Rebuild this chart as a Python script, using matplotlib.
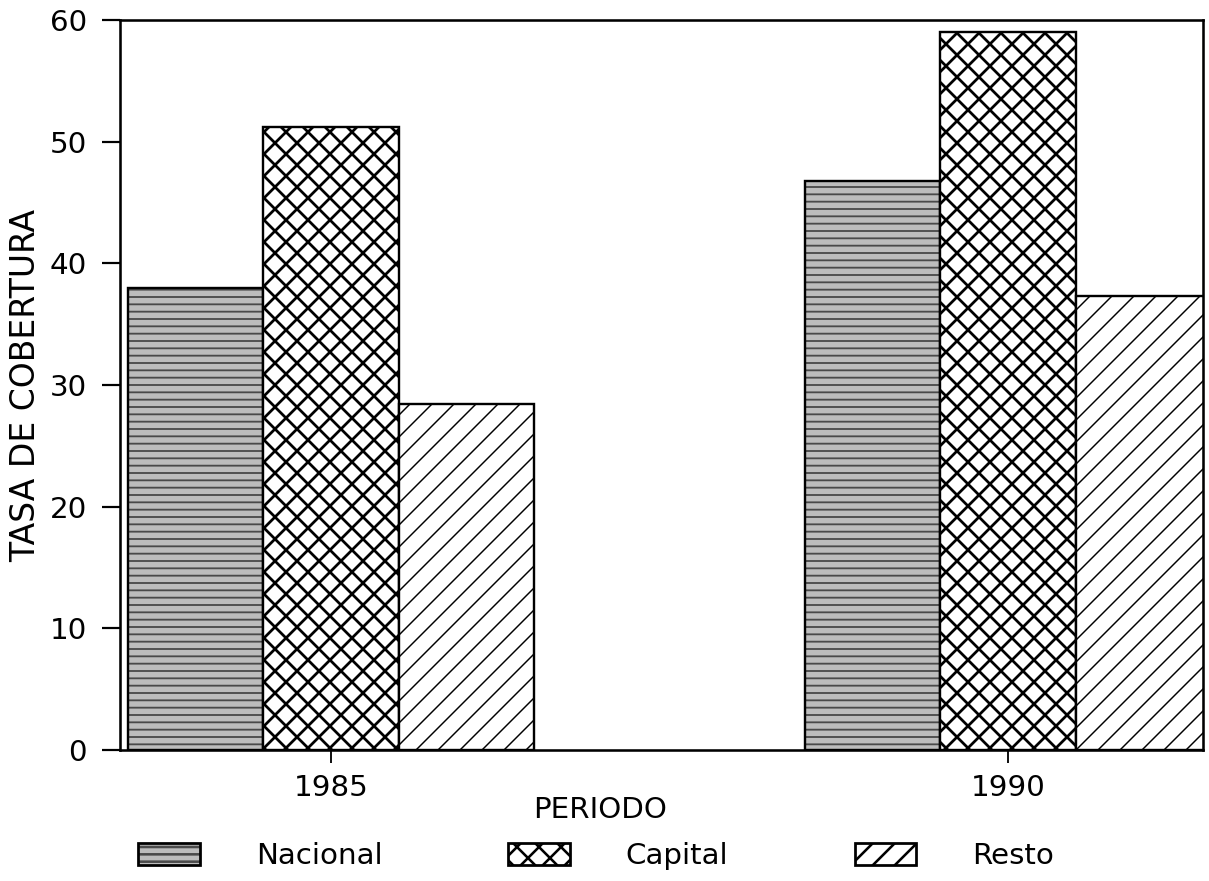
import numpy as np
import matplotlib
matplotlib.use('Agg')
import matplotlib.pyplot as plt
from matplotlib.patches import Patch


# Datos
periodos = ['1985', '1990']
series = ['Nacional', 'Capital', 'Resto']
nacional = [38.0, 46.8]
capital = [51.2, 59.0]
resto = [28.4, 37.3]
y_ticks = [0, 10, 20, 30, 40, 50, 60]

plt.rcParams['font.family'] = ['DejaVu Sans']
DPI = 132

fig = plt.figure(figsize=(1209 / DPI, 881 / DPI), dpi=DPI)
ax = fig.add_axes([120 / 1209, 1 - 750 / 881, 1083 / 1209, 730 / 881])

x = np.arange(len(periodos))
w = 0.2


def draw_bars(pos, vals, face, hatch, hatch_color, hatch_lw):
    # relleno con trama, luego el contorno negro encima
    bars = ax.bar(pos, vals, w, color=face, edgecolor=hatch_color, hatch=hatch, linewidth=0)
    for b in bars:
        if hasattr(b, 'set_hatch_linewidth'):
            b.set_hatch_linewidth(hatch_lw)
    ax.bar(pos, vals, w, fill=False, edgecolor='black', linewidth=1.3)
    fill = Patch(facecolor=face, edgecolor=hatch_color, hatch=hatch, linewidth=0)
    if hasattr(fill, 'set_hatch_linewidth'):
        fill.set_hatch_linewidth(hatch_lw)
    edge = Patch(fill=False, edgecolor='black', linewidth=1.5)
    return (fill, edge)


plt.rcParams['hatch.linewidth'] = 1.4
h1 = draw_bars(x - w, nacional, '#bdbdbd', '---', '#4a4a4a', 1.0)
h2 = draw_bars(x, capital, 'white', 'xx', 'black', 1.5)
h3 = draw_bars(x + w, resto, 'white', '//', 'black', 0.8)

ax.set_xlim(-0.312, 1.288)
ax.set_ylim(0, 60)
ax.set_yticks(y_ticks)
ax.set_xticks(x)
ax.set_xticklabels(periodos)
ax.tick_params(axis='y', direction='out', length=10, width=1.2, labelsize=16, pad=8)
ax.tick_params(axis='x', direction='out', length=7, width=1.0, labelsize=16, pad=6)
for s in ax.spines.values():
    s.set_linewidth(1.4)

ax.set_ylabel('TASA DE COBERTURA', fontsize=18)
ax.yaxis.set_label_coords(-0.072, 0.5)
ax.set_xlabel('PERIODO', fontsize=16)
ax.xaxis.set_label_coords(0.443, -0.063)

fig.legend([h1, h2, h3], series, loc='center', bbox_to_anchor=(0.493, 0.028),
           ncol=3, frameon=False, fontsize=16, handlelength=2.1, handleheight=0.75,
           handletextpad=1.9, columnspacing=4.3)

fig.savefig('out.png', dpi=DPI)
